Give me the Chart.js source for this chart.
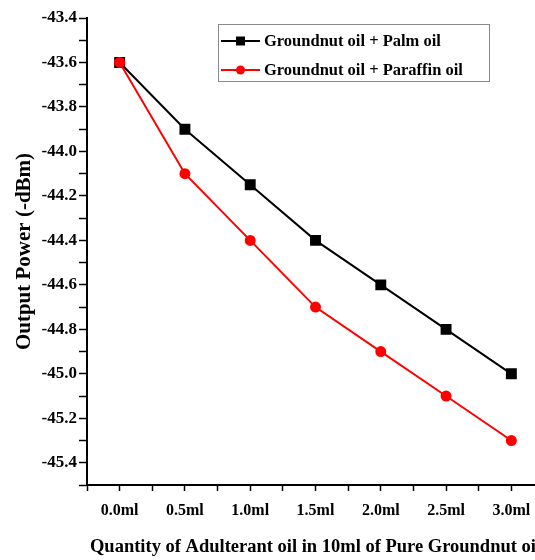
<!DOCTYPE html>
<html>
<head>
<meta charset="utf-8">
<script src="https://cdn.jsdelivr.net/npm/chart.js@4"></script>
<style>
  html, body { margin: 0; padding: 0; background: #fff; overflow: hidden; }
  #wrap { width: 554px; height: 560px; }
</style>
</head>
<body>
<div id="wrap"><canvas id="oilChart"></canvas></div>
<script>
// Quantities of adulterant added
const quantities = ["0.0ml", "0.5ml", "1.0ml", "1.5ml", "2.0ml", "2.5ml", "3.0ml"];
// Output power readings (dBm)
const palmOil = [-43.6, -43.9, -44.15, -44.4, -44.6, -44.8, -45.0];
const paraffinOil = [-43.6, -44.1, -44.4, -44.7, -44.9, -45.1, -45.3];
const seriesNames = ["Groundnut oil + Palm oil", "Groundnut oil + Paraffin oil"];

const serif = "'Liberation Serif', 'Times New Roman', serif";

function toPoints(values) {
  return values.map((v, i) => ({ x: i, y: v }));
}

// Boxed legend drawn inside the plot, top right
const boxLegend = {
  id: "boxLegend",
  afterDraw(chart) {
    const ctx = chart.ctx;
    const x0 = 218, y0 = 24, w = 271, h = 57;
    ctx.save();
    ctx.strokeStyle = "#8a8a8a";
    ctx.lineWidth = 1;
    ctx.strokeRect(x0 + 0.5, y0 + 0.5, w, h);
    ctx.font = "bold 16.5px " + serif;
    ctx.textBaseline = "middle";
    chart.data.datasets.forEach((ds, i) => {
      const y = y0 + 17 + i * 29;
      ctx.strokeStyle = ds.borderColor;
      ctx.lineWidth = 2;
      ctx.beginPath();
      ctx.moveTo(x0 + 3, y);
      ctx.lineTo(x0 + 42, y);
      ctx.stroke();
      ctx.fillStyle = ds.borderColor;
      ctx.beginPath();
      if (ds.pointStyle === "rect") {
        ctx.rect(x0 + 18, y - 4.5, 9, 9);
      } else {
        ctx.arc(x0 + 22.5, y, 4.5, 0, Math.PI * 2);
      }
      ctx.fill();
      ctx.fillStyle = "#000";
      ctx.fillText(ds.label, x0 + 46, y + 1);
    });
    ctx.restore();
  }
};

const ctx = document.getElementById("oilChart").getContext("2d");
const oilChart = new Chart(ctx, {
  type: "line",
  data: {
    datasets: [
      {
        label: seriesNames[0],
        data: toPoints(palmOil),
        borderColor: "#000000",
        backgroundColor: "#000000",
        borderWidth: 2,
        pointStyle: "rect",
        pointRadius: 6.3,
        pointHoverRadius: 6.3,
        order: 2,
      },
      {
        label: seriesNames[1],
        data: toPoints(paraffinOil),
        borderColor: "#ff0000",
        backgroundColor: "#ff0000",
        borderWidth: 2,
        pointStyle: "circle",
        pointRadius: 4.5,
        pointHoverRadius: 4.5,
        order: 1,
      },
    ],
  },
  options: {
    responsive: true,
    maintainAspectRatio: false,
    animation: false,
    layout: { padding: { top: 18, right: 4, left: 0, bottom: 0 } },
    plugins: {
      legend: { display: false },
      tooltip: { enabled: false },
    },
    scales: {
      x: {
        type: "linear",
        min: -0.5,
        max: 6.5,
        afterFit: (scale) => { scale.height = 75; },
        afterBuildTicks: (scale) => {
          const t = [];
          for (let k = -1; k <= 13; k++) t.push({ value: k / 2 });
          scale.ticks = t;
        },
        border: { color: "#000", width: 2 },
        grid: { drawOnChartArea: false, drawTicks: true, tickLength: 6, color: "#000", tickWidth: 1.5 },
        ticks: {
          color: "#000",
          padding: 10,
          maxRotation: 0,
          autoSkip: false,
          font: { family: serif, size: 16, weight: "bold" },
          callback: (v) => (Number.isInteger(v) && quantities[v] !== undefined ? quantities[v] : ""),
        },
        title: {
          display: true,
          text: "Quantity of Adulterant oil in 10ml of Pure Groundnut oil",
          color: "#000",
          padding: { top: 4, bottom: 2 },
          font: { family: serif, size: 18.5, weight: "bold" },
        },
      },
      y: {
        min: -45.5,
        max: -43.4,
        afterFit: (scale) => { scale.width = 87; },
        afterBuildTicks: (scale) => {
          const t = [];
          for (let k = -455; k <= -434; k++) t.push({ value: k / 10 });
          scale.ticks = t;
        },
        border: { color: "#000", width: 2 },
        grid: { drawOnChartArea: false, drawTicks: true, tickLength: 8, color: "#000", tickWidth: 1.5 },
        ticks: {
          color: "#000",
          padding: 2,
          autoSkip: false,
          font: { family: serif, size: 17, weight: "bold" },
          callback: (v) => (Math.round(v * 10) % 2 === 0 ? v.toFixed(1) : ""),
        },
        title: {
          display: true,
          text: "Output Power (-dBm)",
          color: "#000",
          padding: { top: 12, bottom: 0 },
          font: { family: serif, size: 21, weight: "bold" },
        },
      },
    },
  },
  plugins: [boxLegend],
});
</script>
</body>
</html>
